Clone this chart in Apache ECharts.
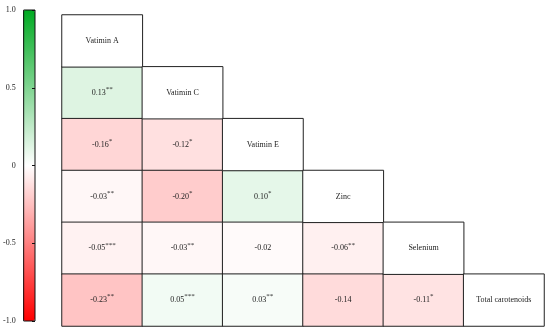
<!DOCTYPE html>
<html><head><meta charset="utf-8">
<script src="https://cdn.jsdelivr.net/npm/echarts@6/dist/echarts.min.js"></script>
<style>html,body{margin:0;padding:0;background:#fff}#c{width:550px;height:335px}</style>
</head><body><div id="c"></div>
<script>
const names = ['Vatimin A','Vatimin C','Vatimin E','Zinc','Selenium','Total carotenoids'];
// lower triangle rows (row i has i values: columns 0..i-1)
const rowValues = [
  [],
  [0.13],
  [-0.16, -0.12],
  [-0.03, -0.20, 0.10],
  [-0.05, -0.03, -0.02, -0.06],
  [-0.23, 0.05, 0.03, -0.14, -0.11]
];
const rowStars = [
  [],
  ['**'],
  ['*', '*'],
  ['**', '*', '*'],
  ['***', '**', '', '**'],
  ['**', '***', '**', '', '*']
];
const barTicks = [-1, -0.5, 0, 0.5, 1];
const barTickLabels = ['-1.0', '-0.5', '0', '0.5', '1.0'];

const valueData = [];
rowValues.forEach((row, r) => row.forEach((v, c) => valueData.push([c, r, v, rowStars[r][c]])));
const diagData = names.map((n, i) => [i, i, 0, n]);

const font = '"Liberation Serif", "DejaVu Serif", serif';
const chart = echarts.init(document.getElementById('c'));
chart.setOption({
  animation: false,
  grid: [
    {left: 62, top: 15, width: 482, height: 311},
    {left: 23, top: 10, width: 12, height: 311, show: true, borderColor: '#111', borderWidth: 1, z: 10, backgroundColor: 'transparent'}
  ],
  xAxis: [
    {type: 'category', data: names, gridIndex: 0, show: false},
    {type: 'value', gridIndex: 1, show: false, min: 0, max: 1}
  ],
  yAxis: [
    {type: 'category', data: names, gridIndex: 0, inverse: true, show: false},
    {type: 'value', gridIndex: 1, min: -1, max: 1, interval: 0.5, position: 'left', z: 10,
     axisLine: {show: false}, axisTick: {show: false}, splitLine: {show: false},
     axisLabel: {fontFamily: font, fontSize: 8, color: '#222', margin: 8,
       formatter: v => barTickLabels[barTicks.indexOf(Math.round(v * 2) / 2)]}},
    {type: 'value', gridIndex: 1, min: -1, max: 1, interval: 0.5, position: 'right', z: 10,
     axisLine: {show: false}, splitLine: {show: false}, axisLabel: {show: false},
     axisTick: {show: true, inside: true, length: 3, lineStyle: {color: '#111'}}}
  ],
  visualMap: {
    type: 'continuous', min: -1, max: 1, seriesIndex: 0, dimension: 2, calculable: false, hoverLink: false,
    orient: 'vertical', left: 23, top: 10, itemWidth: 12, itemHeight: 311, padding: 0,
    text: null, inRange: {color: ['#ff0000', '#ffffff', '#00aa22']}
  },
  series: [
    {
      type: 'heatmap', xAxisIndex: 0, yAxisIndex: 0, data: valueData,
      itemStyle: {borderColor: '#222', borderWidth: 1},
      label: {show: true, fontFamily: font, color: '#222',
        formatter: p => '{v|' + p.data[2].toFixed(2) + '}' + (p.data[3] ? '{s|' + p.data[3] + '}' : ''),
        rich: {
          v: {fontFamily: font, fontSize: 8, color: '#222', lineHeight: 14},
          s: {fontFamily: font, fontSize: 7, color: '#222', lineHeight: 14, verticalAlign: 'top', padding: [0, 0, 7, 0]}
        }},
      emphasis: {disabled: true}
    },
    {
      type: 'heatmap', xAxisIndex: 0, yAxisIndex: 0, data: diagData,
      itemStyle: {color: '#ffffff', borderColor: '#222', borderWidth: 1},
      label: {show: true, fontFamily: font, fontSize: 8, color: '#222', formatter: p => p.data[3]},
      emphasis: {disabled: true}
    }
  ]
});
</script></body></html>
